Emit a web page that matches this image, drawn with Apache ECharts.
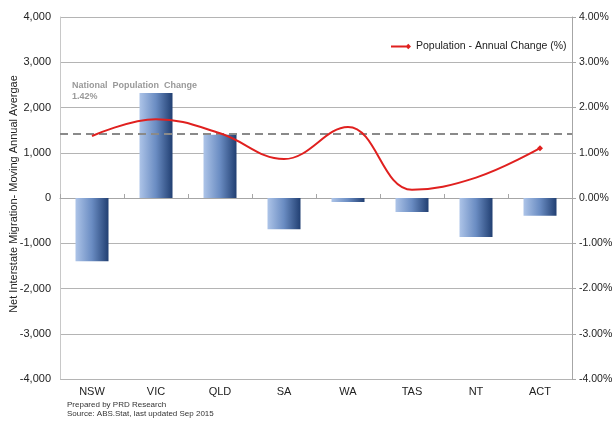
<!DOCTYPE html>
<html>
<head>
<meta charset="utf-8">
<script src="https://cdn.jsdelivr.net/npm/echarts@6/dist/echarts.min.js"></script>
<style>
html,body{margin:0;padding:0;background:#fff;}
#c{width:614px;height:421px;}
</style>
</head>
<body>
<div id="c"></div>
<script>
var categories = ['NSW','VIC','QLD','SA','WA','TAS','NT','ACT'];
var migration = [-1400, 2320, 1400, -690, -90, -310, -860, -390];
var popChange = [1.37, 1.74, 1.43, 0.86, 1.57, 0.18, 0.45, 1.10];
var nationalChange = 1.42;
var leftTicks = {min: -4000, max: 4000, interval: 1000};
var rightTicks = {min: -4, max: 4, interval: 1};
var yTitle = 'Net Interstate Migration- Moving Annual Avergae';

var FONT = '"Liberation Sans", Arial, sans-serif';
var chart = echarts.init(document.getElementById('c'));

var lineData = popChange.map(function(v, i){
  if (i === popChange.length - 1) return {value: v, symbol: 'diamond', symbolSize: 6};
  return {value: v, symbol: 'none'};
});

chart.setOption({
  animation: false,
  textStyle: {fontFamily: FONT},
  grid: {left: 60, right: 42, top: 17, bottom: 42, containLabel: false, outerBoundsMode: 'none'},
  legend: {
    left: 386, top: 36,
    itemWidth: 20, itemHeight: 8,
    textStyle: {fontSize: 10.5, color: '#222', fontFamily: FONT},
    data: [{name: 'Population - Annual Change (%)', icon: 'path://M0,4 L20,4 L20,6 L0,6 Z M19,2 L22,5 L19,8 L16,5 Z'}]
  },
  xAxis: [{
    type: 'category', data: categories, position: 'bottom',
    axisLine: {show: false, onZero: false}, axisTick: {show: false},
    axisLabel: {color: '#222', fontSize: 11, margin: 7, fontFamily: FONT}
  }, {
    type: 'category', data: categories,
    axisLine: {show: true, onZero: true, lineStyle: {color: '#a6a6a6', width: 1}},
    axisTick: {show: true, length: 4, lineStyle: {color: '#a6a6a6'}},
    axisLabel: {show: false}
  }],
  yAxis: [{
    type: 'value', min: leftTicks.min, max: leftTicks.max, interval: leftTicks.interval,
    axisLine: {show: true, lineStyle: {color: '#c8c8c8'}},
    axisTick: {show: false},
    axisLabel: {color: '#222', fontSize: 11, margin: 9, fontFamily: FONT,
      formatter: function(v){ return v.toLocaleString('en-US'); }},
    splitLine: {show: true, lineStyle: {color: '#b4b4b4', width: 1}}
  }, {
    type: 'value', min: rightTicks.min, max: rightTicks.max, interval: rightTicks.interval,
    position: 'right',
    axisLine: {show: true, lineStyle: {color: '#a6a6a6'}},
    axisTick: {show: true, inside: false, length: 4, lineStyle: {color: '#a6a6a6'}},
    axisLabel: {color: '#222', fontSize: 10.5, margin: 7, fontFamily: FONT,
      formatter: function(v){ return v.toFixed(2) + '%'; }},
    splitLine: {show: false}
  }],
  series: [{
    name: 'Net Interstate Migration',
    type: 'bar', xAxisIndex: 0, yAxisIndex: 0,
    data: migration, barWidth: 33,
    itemStyle: {
      color: new echarts.graphic.LinearGradient(0, 0, 1, 0, [
        {offset: 0, color: '#adc4e8'},
        {offset: 0.5, color: '#6a8cc2'},
        {offset: 1, color: '#213f72'}
      ])
    }
  }, {
    name: 'Population - Annual Change (%)',
    type: 'line', xAxisIndex: 0, yAxisIndex: 1,
    data: lineData, smooth: 0.4, showSymbol: true,
    lineStyle: {color: '#e0201f', width: 2},
    itemStyle: {color: '#e0201f'},
    z: 5,
    markLine: {
      silent: true, symbol: 'none', label: {show: false},
      lineStyle: {color: '#8a8a8a', type: [8, 5], width: 2},
      data: [{yAxis: nationalChange}]
    }
  }],
  graphic: [{
    type: 'text', x: 14, y: 194, rotation: Math.PI / 2,
    style: {text: yTitle, font: '11px ' + FONT, fill: '#222', align: 'center', verticalAlign: 'middle'}
  }, {
    type: 'text', left: 72, top: 81,
    style: {text: 'National  Population  Change', font: 'bold 9px ' + FONT, fill: '#999'}
  }, {
    type: 'text', left: 72, top: 92,
    style: {text: nationalChange.toFixed(2) + '%', font: 'bold 9px ' + FONT, fill: '#999'}
  }, {
    type: 'text', left: 67, top: 401,
    style: {text: 'Prepared by PRD Research', font: '8px ' + FONT, fill: '#333'}
  }, {
    type: 'text', left: 67, top: 410,
    style: {text: 'Source: ABS.Stat, last updated Sep 2015', font: '8px ' + FONT, fill: '#333'}
  }]
});
</script>
</body>
</html>
